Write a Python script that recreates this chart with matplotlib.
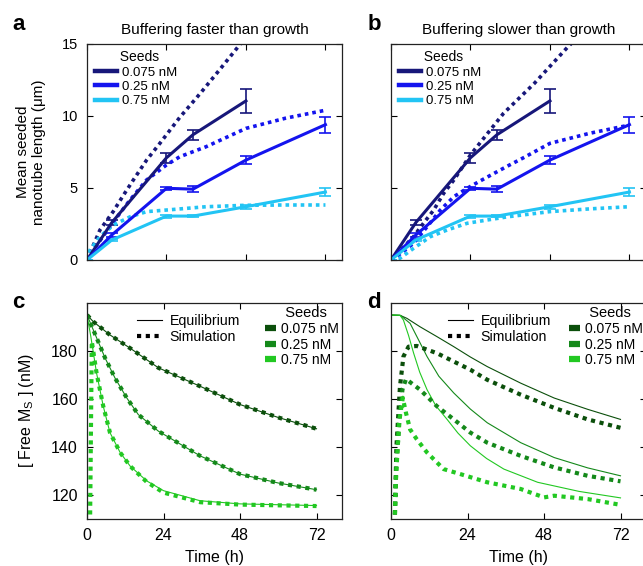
import matplotlib
matplotlib.use('Agg')
import matplotlib.pyplot as plt
from matplotlib.lines import Line2D

plt.rcParams['font.family'] = ['Liberation Sans', 'DejaVu Sans']
plt.rcParams['mathtext.default'] = 'regular'

# --- data: seeded nanotube length (um), experiment ---
seed_labels = ['0.075 nM', '0.25 nM', '0.75 nM']
t_exp = [0, 7.5, 24, 32, 48, 72]
exp_lo = [0, 2.6, 7.1, 8.7, 11.05]          # 0.075 nM, stops at 48 h
err_lo = [0, 0.2, 0.35, 0.35, 0.85]
exp_mid = [0, 1.74, 4.98, 4.92, 6.94, 9.4]   # 0.25 nM
err_mid = [0, 0.12, 0.12, 0.22, 0.28, 0.55]
exp_hi = [0, 1.39, 3.05, 3.05, 3.7, 4.72]    # 0.75 nM
err_hi = [0, 0.08, 0.1, 0.08, 0.15, 0.25]

# simulation, buffering faster than growth (a)
t_a_lo = [0, 3.9, 7.9, 11, 14, 18, 22, 28, 34.2, 40, 46.3, 55]
sim_a_lo = [0, 2.08, 3.36, 4.5, 5.56, 6.94, 8.1, 9.9, 11.57, 13.2, 15.0, 17.2]
t_a_mid = [0, 1.9, 8, 13, 18, 24, 28, 36, 48, 60, 72]
sim_a_mid = [0, 0.69, 2.66, 4.17, 5.56, 6.6, 7.17, 7.87, 9.14, 9.85, 10.4]
t_a_hi = [0, 0.9, 3.9, 8, 13, 18, 24, 36, 48, 60, 72]
sim_a_hi = [0, 0.69, 1.62, 2.43, 3.0, 3.36, 3.47, 3.7, 3.8, 3.82, 3.82]

# simulation, buffering slower than growth (b)
t_b_lo = [0, 3, 6.8, 9.8, 12.9, 15.9, 19, 22, 24, 34, 43.3, 53.4, 60]
sim_b_lo = [0, 0.7, 1.62, 2.55, 3.47, 4.63, 5.56, 6.6, 7.3, 10.19, 12.27, 14.8, 16.3]
t_b_mid = [0, 1.7, 6.8, 10.9, 14.9, 19, 23, 27, 31, 35, 40, 48, 60, 72]
sim_b_mid = [0, 0.23, 1.16, 2.31, 3.47, 4.4, 4.98, 5.5, 6.0, 6.5, 7.1, 8.1, 8.8, 9.37]
t_b_hi = [0, 2.7, 6.8, 11.9, 16.9, 23, 29.1, 35.2, 48, 60, 72]
sim_b_hi = [0, 0.12, 0.81, 1.62, 2.08, 2.55, 2.78, 3.0, 3.36, 3.55, 3.7]

# free monomer (nM), c: equilibrium + simulation
t_c_lo = [0, 2, 7.2, 13.5, 22.4, 35.5, 48, 60, 72]
eq_c_lo = [195, 192.2, 186.7, 181.2, 173, 165.3, 157.7, 152.3, 147.6]
t_c_mid = [0, 2, 5.7, 8.8, 12.5, 16.1, 22.4, 35.5, 48, 60, 72]
eq_c_mid = [195, 188.7, 177, 168.7, 160.4, 153.5, 146.6, 136.3, 128.7, 125, 122.2]
t_c_hi = [0, 1.2, 3, 5.1, 7.2, 10.4, 13.5, 18.7, 24, 35.5, 48, 72]
eq_c_hi = [195, 186, 170.8, 157, 146, 137.7, 132.1, 125.9, 121.8, 117.6, 116.3, 115.6]
t_c_hi_sim = [0, 0.9, 1.5, 3, 5.1, 7.2, 10.4, 13.5, 18.7, 24, 35.5, 48, 72]
sim_c_hi = [0, 100, 184, 170.8, 157, 146, 137.7, 132.1, 125.5, 121, 117, 116, 115.4]

# d: equilibrium
t_d_lo = [0, 2.8, 5, 9.1, 14.4, 19.7, 24.9, 30.2, 40.7, 51.2, 61.7, 72]
eq_d_lo = [195, 194.9, 193.6, 190.1, 186, 181.8, 177.5, 173.5, 166.6, 160.4, 155.7, 151.5]
t_d_mid = [0, 3, 6, 8.5, 11.3, 15, 19.7, 24.9, 30.2, 40.7, 51.2, 61.7, 72]
eq_d_mid = [195, 194.8, 191.5, 185, 177.7, 169.5, 162.5, 155.8, 150.1, 141.8, 135.6, 131.3, 128]
t_d_hi = [0, 2.8, 3.9, 5.5, 7.1, 9, 11.3, 14, 17.6, 21, 24.9, 30, 35.4, 46, 59, 72]
eq_d_hi = [195, 194.9, 192.9, 186.5, 179.1, 171.2, 163.9, 157.3, 151.5, 145.8, 140.5, 135.2, 130.8, 125.3, 121.5, 118.8]
# d: simulation
ts_d_lo = [0, 1.0, 1.7, 2.8, 3.9, 5.5, 8.1, 14.4, 19.7, 24.9, 30.2, 40.7, 51.2, 61.7, 72]
sim_d_lo = [0, 100, 140, 165, 177.7, 181.8, 182.1, 179.1, 175.6, 172.2, 168, 161.8, 156.3, 151.5, 148]
ts_d_mid = [0, 1.0, 1.6, 2.8, 3.6, 4.7, 9.1, 14.4, 19.7, 24.9, 30.2, 40.7, 51.2, 61.7, 72]
sim_d_mid = [0, 100, 130, 154, 164, 168.3, 163.9, 157, 151.5, 146, 141.8, 136.3, 131.5, 128, 125.7]
ts_d_hi = [0, 1.0, 1.5, 2.5, 3.7, 4.7, 6, 8.1, 11.3, 16.5, 21.8, 30.2, 40.7, 48, 51.2, 61.7, 72]
sim_d_hi = [0, 100, 125, 150, 160.5, 154.2, 147.3, 143.2, 137.7, 130.8, 128.7, 125.3, 122.5, 119, 119.7, 118.3, 115.9]

blues = ['#17177a', '#1414ee', '#22c4f4']
greens = ['#0b4f0b', '#14891a', '#22c822']

fig = plt.figure(figsize=(6.43, 5.66), dpi=100)
w, h = 255 / 643, 216 / 566
ax_a = fig.add_axes([87 / 643, 1 - 260 / 566, w, h])
ax_b = fig.add_axes([391 / 643, 1 - 260 / 566, w, h])
ax_c = fig.add_axes([87 / 643, 1 - 519 / 566, w, h])
ax_d = fig.add_axes([391 / 643, 1 - 519 / 566, w, h])

for ax in (ax_a, ax_b, ax_c, ax_d):
    ax.tick_params(direction='in', top=True, right=True, length=4, width=0.8, pad=6.5)
    for s in ax.spines.values():
        s.set_linewidth(0.9)
        s.set_color('#222222')

dot = (0, (1, 1.1))

# ---- top panels ----
top_sims = {ax_a: [(t_a_lo, sim_a_lo), (t_a_mid, sim_a_mid), (t_a_hi, sim_a_hi)],
            ax_b: [(t_b_lo, sim_b_lo), (t_b_mid, sim_b_mid), (t_b_hi, sim_b_hi)]}
titles = {ax_a: 'Buffering faster than growth', ax_b: 'Buffering slower than growth'}
for ax in (ax_a, ax_b):
    ax.errorbar(t_exp[:5], exp_lo, yerr=err_lo, color=blues[0], lw=2.2,
                elinewidth=1.2, capsize=4, capthick=1.2)
    ax.errorbar(t_exp, exp_mid, yerr=err_mid, color=blues[1], lw=2.2,
                elinewidth=1.2, capsize=4, capthick=1.2)
    ax.errorbar(t_exp, exp_hi, yerr=err_hi, color=blues[2], lw=2.2,
                elinewidth=1.2, capsize=4, capthick=1.2)
    for (tt, vv), c in zip(top_sims[ax], blues):
        ax.plot(tt, vv, color=c, lw=2.6, linestyle=dot)
    ax.set_xlim(0, 77)
    ax.set_ylim(0, 15)
    ax.set_xticks([0, 24, 48, 72])
    ax.set_yticks([0, 5, 10, 15])
    ax.tick_params(labelbottom=False, labelsize=10.5)
    ax.set_title(titles[ax], fontsize=11, pad=7)
    handles = [Line2D([], [], color=c, lw=3.2) for c in blues]
    ax.legend(handles, seed_labels, title='  Seeds', loc='upper left',
              bbox_to_anchor=(0.031, 0.97), frameon=False, fontsize=9.5,
              title_fontsize=10, handlelength=1.65, handletextpad=0.4,
              labelspacing=0.15, borderaxespad=0, borderpad=0)

ax_a.set_ylabel('Mean seeded\nnanotube length (μm)', fontsize=11)
ax_a.yaxis.set_label_coords(-0.16, 0.5)
ax_b.tick_params(labelleft=False)

# ---- bottom panels ----
ax_c.plot(t_c_lo, eq_c_lo, color=greens[0], lw=0.8)
ax_c.plot(t_c_mid, eq_c_mid, color=greens[1], lw=0.8)
ax_c.plot(t_c_hi, eq_c_hi, color=greens[2], lw=0.8)
ax_c.plot(t_c_lo, eq_c_lo, color=greens[0], lw=3, linestyle=dot)
ax_c.plot(t_c_mid, eq_c_mid, color=greens[1], lw=3, linestyle=dot)
ax_c.plot(t_c_hi_sim, sim_c_hi, color=greens[2], lw=3, linestyle=dot)

ax_d.plot(t_d_lo, eq_d_lo, color=greens[0], lw=0.8)
ax_d.plot(t_d_mid, eq_d_mid, color=greens[1], lw=0.8)
ax_d.plot(t_d_hi, eq_d_hi, color=greens[2], lw=0.8)
ax_d.plot(ts_d_lo, sim_d_lo, color=greens[0], lw=3, linestyle=dot)
ax_d.plot(ts_d_mid, sim_d_mid, color=greens[1], lw=3, linestyle=dot)
ax_d.plot(ts_d_hi, sim_d_hi, color=greens[2], lw=3, linestyle=dot)

for ax, lx in ((ax_c, 0.196), (ax_d, 0.2235)):
    ax.set_xlim(0, 80)
    ax.set_ylim(110, 200)
    ax.set_xticks([0, 24, 48, 72])
    ax.set_yticks([120, 140, 160, 180])
    ax.tick_params(labelsize=11.5)
    ax.set_xlabel('Time (h)', fontsize=11.5, labelpad=5)
    kind = [Line2D([], [], color='black', lw=0.8),
            Line2D([], [], color='black', lw=3, linestyle=dot)]
    leg1 = ax.legend(kind, ['Equilibrium', 'Simulation'], loc='upper left',
                     bbox_to_anchor=(lx, 0.95), frameon=False, fontsize=10.2,
                     handlelength=1.8, handletextpad=0.5, labelspacing=0.15,
                     borderaxespad=0, borderpad=0)
    ax.add_artist(leg1)
    seeds = [Line2D([], [], color=c, lw=4.5, solid_capstyle='butt') for c in greens]
    ax.legend(seeds, seed_labels, title='  Seeds', loc='upper left',
              bbox_to_anchor=(0.698, 0.985), frameon=False, fontsize=10,
              title_fontsize=10.5, handlelength=0.8, handletextpad=0.35,
              labelspacing=0.12, borderaxespad=0, borderpad=0)

ax_c.set_ylabel('[ Free M$_S$ ] (nM)', fontsize=11.5)
ax_c.yaxis.set_label_coords(-0.2, 0.5)
ax_d.tick_params(labelleft=False)

# panel letters
for x, y, s in ((0.019, 0.947, 'a'), (0.571, 0.947, 'b'),
                (0.019, 0.456, 'c'), (0.571, 0.456, 'd')):
    fig.text(x, y, s, fontsize=16, fontweight='bold', va='baseline')

fig.savefig('out.png', dpi=100)
